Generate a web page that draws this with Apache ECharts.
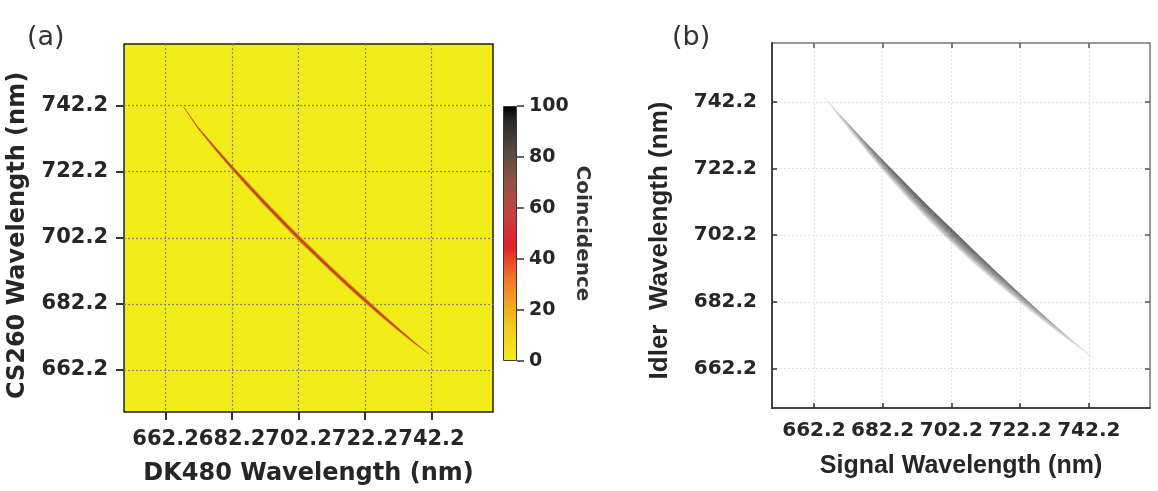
<!DOCTYPE html>
<html>
<head>
<meta charset="utf-8">
<script src="https://cdn.jsdelivr.net/npm/echarts@6/dist/echarts.min.js"></script>
<style>
html,body{margin:0;padding:0;background:#ffffff;}
#chart{width:1158px;height:491px;}
</style>
</head>
<body>
<div id="chart"></div>
<script>
// ---------- data ----------
const wavelengthTicks = [662.2, 682.2, 702.2, 722.2, 742.2];
const coincidenceTicks = [0, 20, 40, 60, 80, 100];

// panel (a): measured coincidence ridge (DK480 vs CS260)
const signalA = [667.6, 672, 677, 682.2, 687, 692, 697, 702.2, 707, 712, 717, 722.2, 727, 732, 737, 741.5];
const idlerA  = [741.8, 735.4, 729.4, 723.4, 718.1, 712.7, 707.5, 702.2, 697.5, 692.7, 688.0, 683.3, 679.0, 674.7, 670.5, 667.0];
const spreadA = [0.06, 0.16, 0.28, 0.36, 0.42, 0.45, 0.47, 0.48, 0.47, 0.46, 0.44, 0.42, 0.38, 0.3, 0.18, 0.06];

// panel (b): simulated joint spectrum (signal vs idler)
const signalB    = [665, 670, 675, 680, 685, 690, 695, 702.2, 708, 714, 720, 726, 732, 738, 745];
const idlerB     = [743.8, 737.6, 731.7, 725.9, 720.3, 714.8, 709.5, 702.2, 696.5, 690.8, 685.3, 679.9, 674.7, 669.7, 664.1];
const spreadB    = [0.15, 0.6, 1.0, 1.4, 1.7, 1.95, 2.1, 2.2, 2.1, 1.9, 1.6, 1.25, 0.9, 0.5, 0.1];
const intensityB = [0.12, 0.32, 0.55, 0.78, 0.88, 0.95, 0.98, 1.0, 0.97, 0.9, 0.8, 0.65, 0.48, 0.28, 0.08];

// ---------- styles ----------
const TXT = '#262626';
const colorbarStops = [
  [0.00, '#f3ef1c'], [0.12, '#f0d01c'], [0.22, '#efa820'], [0.32, '#ef7a2a'],
  [0.45, '#e11f2e'], [0.58, '#c4443c'], [0.70, '#8e5444'], [0.82, '#5a4a40'],
  [0.94, '#2a2a2a'], [1.00, '#000000']
];

const chart = echarts.init(document.getElementById('chart'), null, {renderer: 'canvas'});

function fmt(v) { return Number(v).toFixed(1); }

const tickFont = {fontFamily: 'DejaVu Sans', fontWeight: 'bold', fontSize: 21, color: TXT};
const tickFontB = {fontFamily: 'DejaVu Sans', fontWeight: 'bold', fontSize: 20, color: TXT};

function renderA(params, api) {
  const layers = [{f: 1.0, color: '#ee8a1e'}, {f: 0.5, color: '#b8451e'}];
  const children = layers.map(function (L) {
    const up = signalA.map((x, i) => api.coord([x + spreadA[i] * L.f, idlerA[i] + spreadA[i] * L.f]));
    const lo = signalA.map((x, i) => api.coord([x - spreadA[i] * L.f, idlerA[i] - spreadA[i] * L.f])).reverse();
    return {type: 'polygon', shape: {points: up.concat(lo)}, style: {fill: L.color}};
  });
  return {type: 'group', children: children};
}

function renderB(params, api) {
  const N = 10;
  const n = signalB.length;
  const p0 = api.coord([signalB[0], idlerB[0]]);
  const p1 = api.coord([signalB[n - 1], idlerB[n - 1]]);
  const span = signalB[n - 1] - signalB[0];
  const children = [];
  for (let k = 1; k <= N; k++) {
    const stops = signalB.map((x, i) => ({
      offset: (x - signalB[0]) / span,
      color: 'rgba(30,30,30,' + (0.11 * intensityB[i]).toFixed(3) + ')'
    }));
    const edge = signalB.map((x, i) => api.coord([x + 0.45 * spreadB[i], idlerB[i] + 0.45 * spreadB[i]]));
    const fade = signalB.map((x, i) => {
      const d = 0.45 * spreadB[i] - spreadB[i] * k / N;
      return api.coord([x + d, idlerB[i] + d]);
    }).reverse();
    children.push({
      type: 'polygon',
      shape: {points: edge.concat(fade)},
      style: {fill: new echarts.graphic.LinearGradient(p0[0], p0[1], p1[0], p1[1], stops, true)}
    });
  }
  return {type: 'group', children: children};
}

const option = {
  animation: false,
  backgroundColor: '#ffffff',
  textStyle: {fontFamily: 'DejaVu Sans'},
  title: [
    {text: '(a)', left: 22, top: 19, textStyle: {fontFamily: 'DejaVu Sans', fontWeight: 'normal', fontSize: 27, color: '#333'}},
    {text: '(b)', left: 667, top: 19, textStyle: {fontFamily: 'DejaVu Sans', fontWeight: 'normal', fontSize: 27, color: '#333'}}
  ],
  grid: [
    {left: 124, top: 44, width: 369, height: 369, show: true, backgroundColor: '#f2ec18', borderColor: '#1e1e1e', borderWidth: 1.5},
    {left: 503, top: 106, width: 14, height: 255, show: false},
    {left: 772, top: 43, width: 378, height: 365, show: true, backgroundColor: '#ffffff', borderColor: '#777777', borderWidth: 1.5}
  ],
  xAxis: [
    {
      gridIndex: 0, type: 'value', min: 649.7, max: 760.7,
      axisLine: {show: false},
      axisTick: {show: true, inside: false, length: 8, lineStyle: {color: '#333', width: 2}, customValues: wavelengthTicks},
      axisLabel: Object.assign({customValues: wavelengthTicks, formatter: fmt, margin: 17}, tickFont),
      splitLine: {show: true, lineStyle: {color: '#8a8872', width: 1.2, type: [2, 2]}},
      name: 'DK480 Wavelength (nm)', nameLocation: 'middle', nameGap: 50,
      nameTextStyle: {fontFamily: 'DejaVu Sans', fontWeight: 'bold', fontSize: 24, color: TXT}
    },
    {gridIndex: 1, type: 'category', data: [''], show: false},
    {
      gridIndex: 2, type: 'value', min: 650, max: 760,
      axisLine: {show: true, lineStyle: {color: '#444', width: 2}},
      axisTick: {show: true, inside: true, length: 5, lineStyle: {color: '#333', width: 1.5}, customValues: wavelengthTicks},
      axisLabel: Object.assign({customValues: wavelengthTicks, formatter: fmt, margin: 13}, tickFontB),
      splitLine: {show: true, lineStyle: {color: '#e2e4ec', width: 1, type: [2, 2]}},
      name: 'Signal Wavelength (nm)', nameLocation: 'middle', nameGap: 46,
      nameTextStyle: {fontFamily: 'Liberation Sans', fontWeight: 'bold', fontSize: 25, color: TXT}
    },
    {
      gridIndex: 2, type: 'value', min: 650, max: 760, position: 'top',
      axisLine: {show: false},
      axisTick: {show: true, inside: true, length: 5, lineStyle: {color: '#555', width: 1.5}, customValues: wavelengthTicks},
      axisLabel: {show: false},
      splitLine: {show: false}
    }
  ],
  yAxis: [
    {
      gridIndex: 0, type: 'value', min: 649.5, max: 760.8,
      axisLine: {show: false},
      axisTick: {show: true, inside: false, length: 8, lineStyle: {color: '#333', width: 2}, customValues: wavelengthTicks},
      axisLabel: Object.assign({customValues: wavelengthTicks, formatter: fmt, margin: 16}, tickFont),
      splitLine: {show: true, lineStyle: {color: '#8a8872', width: 1.2, type: [2, 2]}},
      name: 'CS260 Wavelength (nm)', nameLocation: 'middle', nameGap: 94,
      nameTextStyle: {fontFamily: 'DejaVu Sans', fontWeight: 'bold', fontSize: 24, color: TXT, padding: [0, 15, 0, 0]}
    },
    {
      gridIndex: 1, type: 'value', min: 0, max: 100, interval: 20, position: 'right',
      axisLine: {show: false},
      axisTick: {show: true, inside: false, length: 7, lineStyle: {color: '#333', width: 1.5}},
      axisLabel: {margin: 12, fontFamily: 'DejaVu Sans', fontWeight: 'bold', fontSize: 19, color: TXT},
      splitLine: {show: false},
      name: 'Coincidence', nameLocation: 'middle', nameGap: 53, nameRotate: -90,
      nameTextStyle: {fontFamily: 'DejaVu Sans', fontWeight: 'bold', fontSize: 20, color: '#333'}
    },
    {
      gridIndex: 2, type: 'value', min: 650.3, max: 759.9,
      axisLine: {show: true, lineStyle: {color: '#444', width: 2}},
      axisTick: {show: true, inside: true, length: 5, lineStyle: {color: '#333', width: 1.5}, customValues: wavelengthTicks},
      axisLabel: Object.assign({customValues: wavelengthTicks, formatter: fmt, margin: 15}, tickFontB),
      splitLine: {show: true, lineStyle: {color: '#e2e4ec', width: 1, type: [2, 2]}},
      name: 'Idler  Wavelength (nm)', nameLocation: 'middle', nameGap: 99,
      nameTextStyle: {fontFamily: 'Liberation Sans', fontWeight: 'bold', fontSize: 26, color: TXT, padding: [0, 30, 0, 0]}
    },
    {
      gridIndex: 2, type: 'value', min: 650.3, max: 759.9, position: 'right',
      axisLine: {show: false},
      axisTick: {show: true, inside: true, length: 5, lineStyle: {color: '#555', width: 1.5}, customValues: wavelengthTicks},
      axisLabel: {show: false},
      splitLine: {show: false}
    }
  ],
  series: [
    {
      type: 'custom', xAxisIndex: 0, yAxisIndex: 0, clip: true,
      renderItem: renderA,
      data: [[signalA[0], idlerA[0]]],
      silent: true
    },
    {
      type: 'bar', xAxisIndex: 1, yAxisIndex: 1, barWidth: '100%',
      data: [coincidenceTicks[coincidenceTicks.length - 1]],
      itemStyle: {
        color: new echarts.graphic.LinearGradient(0, 1, 0, 0, colorbarStops.map(s => ({offset: s[0], color: s[1]}))),
        borderColor: '#3a3a3a', borderWidth: 1
      },
      silent: true
    },
    {
      type: 'custom', xAxisIndex: 2, yAxisIndex: 2, clip: true,
      renderItem: renderB,
      data: [[signalB[0], idlerB[0]]],
      silent: true
    }
  ]
};

chart.setOption(option);
</script>
</body>
</html>
